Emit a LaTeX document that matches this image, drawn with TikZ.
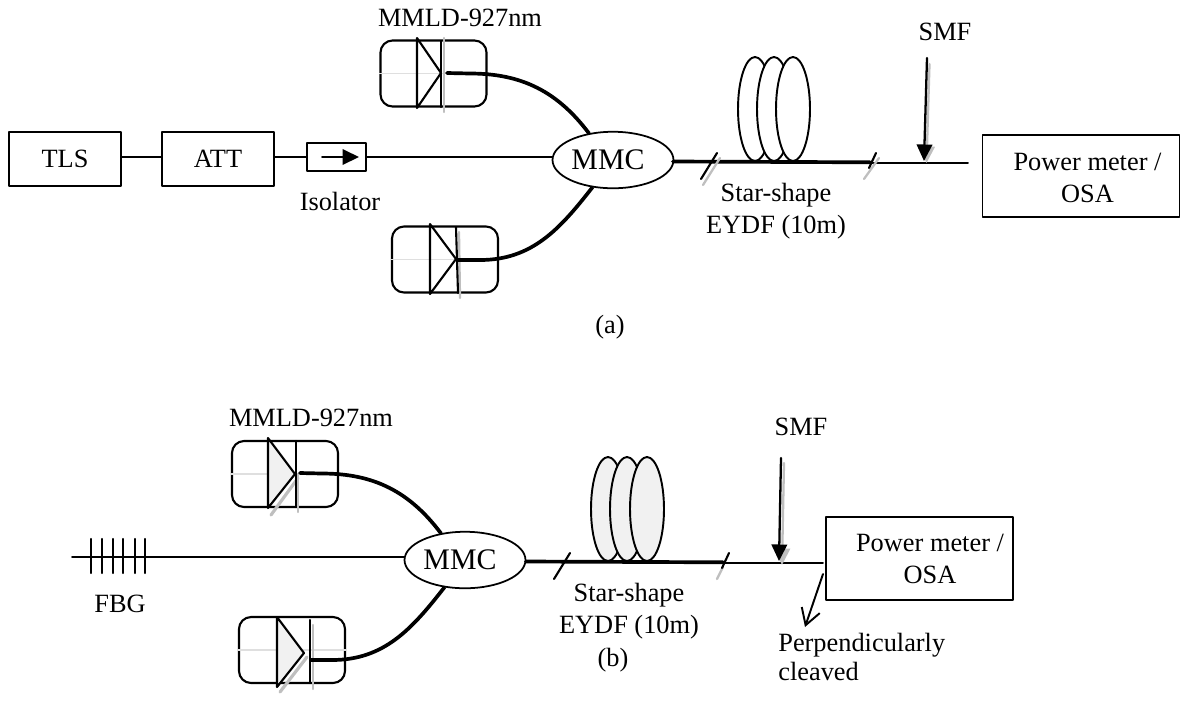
\documentclass[tikz,border=0pt]{standalone}
\usepackage{fontspec}
\setmainfont{Liberation Serif}
\usetikzlibrary{arrows.meta,positioning,shapes.geometric}
\definecolor{shadowgray}{gray}{0.75}
\definecolor{coilfill}{gray}{0.945}
\tikzset{
  every picture/.style={line cap=round,line join=round},
  boxnode/.style={rectangle,draw,line width=1.1pt,inner sep=0pt,align=center},
  ldnode/.style={rectangle,rounded corners=2.4mm,draw,line width=1.2pt,minimum width=2.12cm,minimum height=1.32cm,inner sep=0pt},
  mmcnode/.style={ellipse,draw,fill=white,line width=1pt,minimum width=2.42cm,minimum height=1.13cm,inner sep=0pt,font=\fontsize{17}{19}\selectfont},
  coilnode/.style={ellipse,draw,fill=white,line width=1.1pt,minimum width=0.68cm,minimum height=2.08cm,inner sep=0pt},
  lbl/.style={inner sep=0pt,align=center},
  thin fibre/.style={line width=1.1pt},
  thick fibre/.style={line width=2.1pt},
  tickmark/.style={line width=1.2pt},
  shade line/.style={shadowgray,line width=1.3pt},
  ld part/.style={line width=1.2pt},
  pointer/.style={->,line width=1.3pt,>={Triangle[length=3.3mm,width=3.1mm]}}
}
\begin{document}
\begin{tikzpicture}[x=0.02cm,y=-0.02cm,font=\fontsize{15}{17}\selectfont]
  \useasboundingbox (0,0) rectangle (1190,708);
  % panel (a)
  \node[boxnode,minimum width=2.24cm,minimum height=1.08cm] (tls) at (65,159) {TLS};
  \node[boxnode,minimum width=2.24cm,minimum height=1.08cm] (att) at (218,159) {ATT};
  \node[boxnode,minimum width=1.18cm,minimum height=0.56cm] (iso) at (336.5,157) {};
  \coordinate (isoa) at (322,157);
  \coordinate (isob) at (359,157);
  \draw[pointer,line width=1.1pt] (isoa)--(isob);
  \node[lbl] (isolabel) at (340,201) {Isolator};
  \node[mmcnode] (mmca) at (613,160) {MMC\kern2mm};
  \draw[thin fibre] (tls.east|-iso)--(att.west|-iso);
  \draw[thin fibre] (att.east|-iso)--(iso);
  \draw[thin fibre] (iso)--(mmca.west|-iso);
  % top laser (a)
  \node[lbl] (ldalabel) at (460,18) {MMLD-927nm};
  \node[ldnode] (lda) at (433.5,73.5) {};
  \coordinate (ldat) at (417,38);
  \coordinate (ldab) at (417,108);
  \coordinate (ldap) at (441,73);
  \coordinate (ldac) at (441,41);
  \coordinate (ldad) at (441,107);
  \coordinate (ldas) at (444,112);
  \coordinate (ldao) at (447,73);
  \coordinate (ldaq) at (470,73.5);
  \draw[shadowgray!50,line width=0.8pt] (lda.west)--(lda.east);
  \draw[shade line] (ldas)--(ldas|-ldat);
  \draw[ld part] (ldat)--(ldab)--(ldap)--cycle;
  \draw[ld part] (ldac)--(ldad);
  \draw[thick fibre] (ldao)--(ldaq) to[out=0,in=127] (mmca.132);
  % bottom laser (a)
  \node[ldnode] (ldb) at (445,259.5) {};
  \coordinate (ldbt) at (430,224);
  \coordinate (ldbb) at (430,294);
  \coordinate (ldbp) at (456,259);
  \coordinate (ldbc) at (456,227);
  \coordinate (ldbd) at (458,293);
  \coordinate (ldbs) at (460,298);
  \coordinate (ldbu) at (459,232);
  \coordinate (ldbo) at (458,260);
  \coordinate (ldbq) at (480,260);
  \draw[shadowgray!50,line width=0.8pt] (ldb.west)--(ldb.east);
  \draw[shade line] (ldbs)--(ldbu);
  \draw[ld part] (ldbt)--(ldbb)--(ldbp)--cycle;
  \draw[ld part] (ldbc)--(ldbd);
  \draw[thick fibre] (ldbo)--(ldbq) to[out=0,in=232] (mmca.233);
  % coil and output (a)
  \node[coilnode] (coila) at (755,109) {};
  \node[coilnode] (coilb) at (774,109) {};
  \node[coilnode] (coilc) at (793,109) {};
  \coordinate (yastart) at (673,161.5);
  \coordinate (yaend) at (870,162.3);
  \coordinate (smfastart) at (870,163.3);
  \coordinate (smfaend) at (968,163.3);
  \draw[thick fibre] (yastart)--(yaend);
  \draw[thin fibre] (smfastart)--(smfaend);
  \coordinate (taa) at (701,179);
  \coordinate (tab) at (717,153);
  \coordinate (tac) at (703,185);
  \coordinate (tad) at (720,158);
  \coordinate (tae) at (869,168);
  \coordinate (taf) at (876,153);
  \coordinate (tag) at (864,179);
  \coordinate (tah) at (879,158);
  \draw[shade line] (tac)--(tad);
  \draw[shade line] (tag)--(tah);
  \draw[tickmark] (taa)--(tab);
  \draw[tickmark] (tae)--(taf);
  \node[lbl] (staralabel) at (776,211) {Star-shape\\[1pt]EYDF (10m)};
  \node[lbl] (smfalabel) at (945,32) {SMF};
  \coordinate (smfaa) at (927,58);
  \coordinate (smfab) at (924,161);
  \coordinate (smfac) at (929.5,64);
  \coordinate (smfad) at (926.5,163);
  \draw[pointer,shadowgray] (smfac)--(smfad);
  \draw[pointer] (smfaa)--(smfab);
  \node[boxnode,minimum width=3.94cm,minimum height=1.64cm] (pma) at (1081,176) {};
  \node[lbl] (pmalabel) at (1087.5,178) {Power meter /\\[1pt]OSA};
  \node[lbl] (cap) at (610,327) {(a)};
  % panel (b)
  \node[mmcnode] (mmcb) at (465,560) {MMC\kern2mm};
  \coordinate (fbgstart) at (72,557);
  \draw[thin fibre] (fbgstart)--(mmcb.west|-fbgstart);
  \coordinate (fga) at (91,539); \coordinate (fgb) at (91,573);
  \coordinate (fgc) at (102,539); \coordinate (fgd) at (102,573);
  \coordinate (fge) at (113,539); \coordinate (fgf) at (113,573);
  \coordinate (fgg) at (123,539); \coordinate (fgh) at (123,573);
  \coordinate (fgi) at (135,539); \coordinate (fgj) at (135,573);
  \coordinate (fgk) at (145,539); \coordinate (fgl) at (145,573);
  \draw[tickmark,line width=1.4pt] (fga)--(fgb) (fgc)--(fgd) (fge)--(fgf) (fgg)--(fgh) (fgi)--(fgj) (fgk)--(fgl);
  \node[lbl] (fbglabel) at (120,604) {FBG};
  % top laser (b)
  \node[lbl] (ldclabel) at (311,418) {MMLD-927nm};
  \node[ldnode] (ldc) at (285,474) {};
  \coordinate (ldct) at (268,438);
  \coordinate (ldcb) at (268,508);
  \coordinate (ldcp) at (295,474);
  \coordinate (ldcc) at (296,441);
  \coordinate (ldcd) at (296,507);
  \coordinate (ldcs) at (298,512);
  \coordinate (ldcr) at (271,515);
  \coordinate (ldcq) at (298,478);
  \coordinate (ldco) at (300,473);
  \coordinate (ldcv) at (322,473.5);
  \draw[shadowgray!50,line width=0.8pt] (ldc.west)--(ldc.east);
  \draw[shade line] (ldcs)--(ldcs|-ldcp);
  \draw[shade line,line width=1.8pt] (ldcr)--(ldcq);
  \draw[ld part,fill=coilfill] (ldct)--(ldcb)--(ldcp)--cycle;
  \draw[ld part] (ldcc)--(ldcd);
  \draw[thick fibre] (ldco)--(ldcv) to[out=0,in=127] (mmcb.132);
  % bottom laser (b)
  \node[ldnode] (ldd) at (292,650) {};
  \coordinate (lddt) at (277,617);
  \coordinate (lddb) at (277,687);
  \coordinate (lddp) at (304,653);
  \coordinate (lddc) at (310,620);
  \coordinate (lddd) at (310,683);
  \coordinate (ldds) at (313,689);
  \coordinate (lddu) at (313,625);
  \coordinate (lddr) at (280,692);
  \coordinate (lddq) at (307,657);
  \coordinate (lddo) at (311,660);
  \coordinate (lddv) at (332,660);
  \draw[shadowgray!50,line width=0.8pt] (ldd.west)--(ldd.east);
  \draw[shade line] (ldds)--(lddu);
  \draw[shade line,line width=1.8pt] (lddr)--(lddq);
  \draw[ld part,fill=coilfill] (lddt)--(lddb)--(lddp)--cycle;
  \draw[ld part] (lddc)--(lddd);
  \draw[thick fibre] (lddo)--(lddv) to[out=0,in=232] (mmcb.233);
  % coil and output (b)
  \node[coilnode,fill=coilfill] (coild) at (608,509) {};
  \node[coilnode,fill=coilfill] (coile) at (627,509) {};
  \node[coilnode,fill=coilfill] (coilf) at (647,509) {};
  \coordinate (ybstart) at (526,561.5);
  \coordinate (ybend) at (723,562.3);
  \coordinate (smfbstart) at (723,563.3);
  \coordinate (smfbend) at (823,563.3);
  \draw[thick fibre] (ybstart)--(ybend);
  \draw[thin fibre] (smfbstart)--(smfbend);
  \coordinate (tba) at (554,579);
  \coordinate (tbb) at (570,553);
  \coordinate (tbe) at (722,568);
  \coordinate (tbf) at (729,553);
  \coordinate (tbg) at (717,579);
  \coordinate (tbh) at (723,567);
  \draw[shade line] (tbg)--(tbh);
  \draw[tickmark] (tba)--(tbb);
  \draw[tickmark] (tbe)--(tbf);
  \node[lbl] (starblabel) at (629,611) {Star-shape\\[1pt]EYDF (10m)};
  \node[lbl] (smfblabel) at (801,427) {SMF};
  \coordinate (smfba) at (781,458);
  \coordinate (smfbb) at (779,561);
  \coordinate (smfbc) at (784,463);
  \coordinate (smfbd) at (782,565);
  \draw[pointer,shadowgray] (smfbc)--(smfbd);
  \draw[pointer] (smfba)--(smfbb);
  \node[boxnode,minimum width=3.74cm,minimum height=1.66cm] (pmb) at (919.5,558.5) {};
  \node[lbl] (pmblabel) at (930,559) {Power meter /\\[1pt]OSA};
  \coordinate (cleava) at (823,574);
  \coordinate (cleavb) at (805,627);
  \draw[->,line width=1.1pt,>={Straight Barb[length=3.2mm,width=3.8mm]}] (cleava)--(cleavb);
  \node[lbl,align=left,anchor=west] (cleavlabel) at (778,657) {Perpendicularly\\cleaved};
  \node[lbl] (capb) at (613,660) {(b)};
\end{tikzpicture}
\end{document}
